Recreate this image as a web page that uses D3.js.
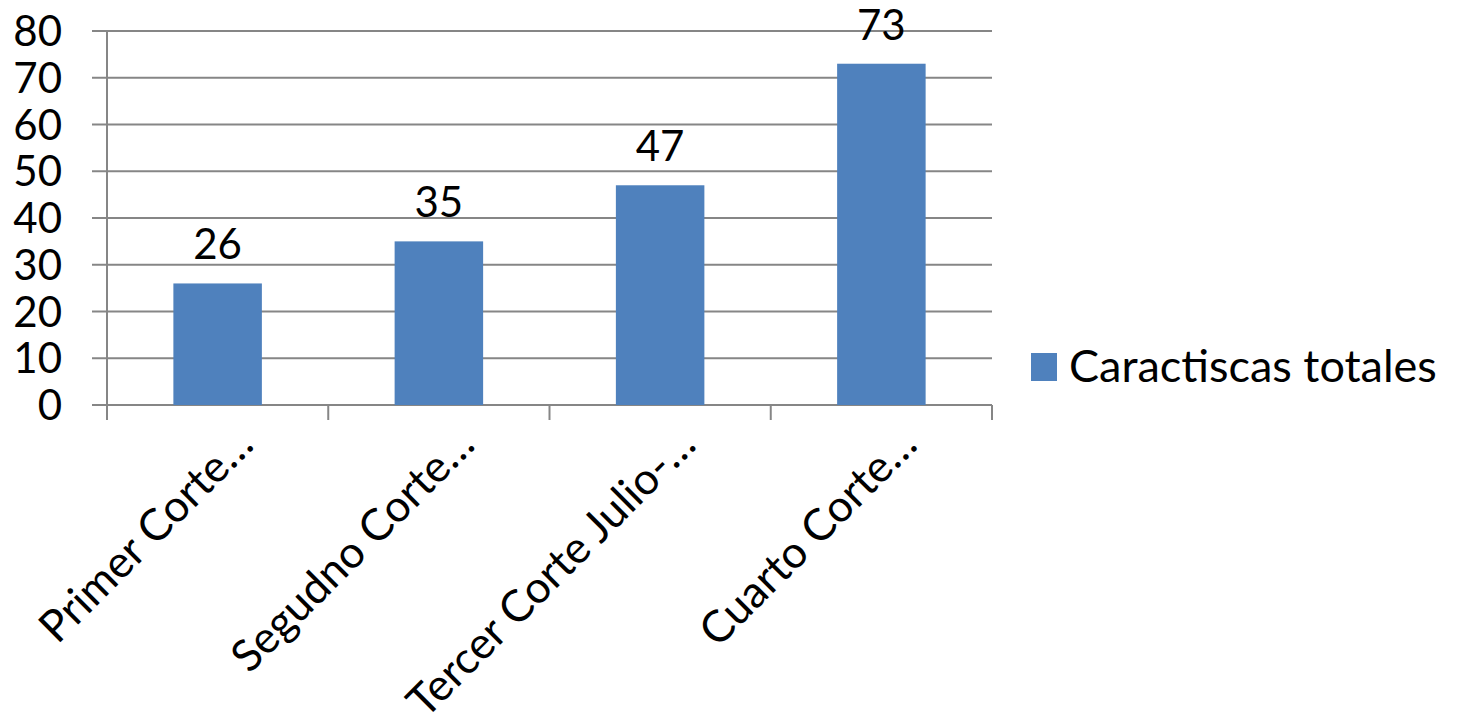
<!DOCTYPE html>
<html><head><meta charset="utf-8">
<script src="https://cdn.jsdelivr.net/npm/d3@7"></script>
<style>body{margin:0;background:#fff}svg{display:block}text{font-family:Lato,"Open Sans",sans-serif;fill:#000}</style>
</head><body>
<svg id="c" width="1458" height="714"></svg>
<script>
const categories = ["Primer Corte…", "Segudno Corte…", "Tercer Corte Julio-…", "Cuarto Corte…"];
const values = [26, 35, 47, 73];
const yTicks = [0, 10, 20, 30, 40, 50, 60, 70, 80];
const seriesName = "Caractiscas totales";

(function () {
const svg = d3.select("#c");
const pL = 107, pR = 992, pT = 31, pB = 405;
const grid = "#868686";
const fs = 42;

const x = d3.scaleBand().domain(categories).range([pL, pR]).paddingInner(0.6).paddingOuter(0.3);
const xb = d3.scaleBand().domain(categories).range([pL, pR]);
const y = d3.scaleLinear().domain([0, 80]).range([pB, pT]);

svg.append("g").selectAll("line").data(yTicks).join("line")
  .attr("x1", pL - 15).attr("x2", pR)
  .attr("y1", d => y(d)).attr("y2", d => y(d))
  .attr("stroke", grid).attr("stroke-width", 2);

svg.append("line").attr("x1", pL).attr("x2", pL).attr("y1", pT).attr("y2", pB + 15)
  .attr("stroke", grid).attr("stroke-width", 2);

const bounds = categories.map(c => xb(c)).concat([pR]);
svg.append("g").selectAll("line").data(bounds).join("line")
  .attr("x1", d => d).attr("x2", d => d).attr("y1", pB).attr("y2", pB + 15)
  .attr("stroke", grid).attr("stroke-width", 2);

svg.append("g").selectAll("rect").data(values).join("rect")
  .attr("x", (d, i) => x(categories[i]))
  .attr("width", x.bandwidth())
  .attr("y", d => y(d)).attr("height", d => pB - y(d))
  .attr("fill", "#4F81BD");

svg.append("g").selectAll("text").data(values).join("text")
  .attr("x", (d, i) => x(categories[i]) + x.bandwidth() / 2)
  .attr("y", d => y(d) - 24)
  .attr("text-anchor", "middle").attr("font-size", fs)
  .text(d => d);

svg.append("g").selectAll("text").data(yTicks).join("text")
  .attr("x", 62).attr("y", d => y(d) + 15)
  .attr("text-anchor", "end").attr("font-size", fs)
  .text(d => d);

svg.append("g").selectAll("text").data(categories).join("text")
  .attr("transform", d => `translate(${xb(d) + xb.bandwidth() / 2 + 38},447) rotate(-45)`)
  .attr("text-anchor", "end").attr("font-size", 44)
  .text(d => d);

svg.append("rect").attr("x", 1031).attr("y", 353).attr("width", 26).attr("height", 28).attr("fill", "#4F81BD");
svg.append("text").attr("x", 1069).attr("y", 382).attr("font-size", 45).text(seriesName);
})();
</script>
</body></html>
